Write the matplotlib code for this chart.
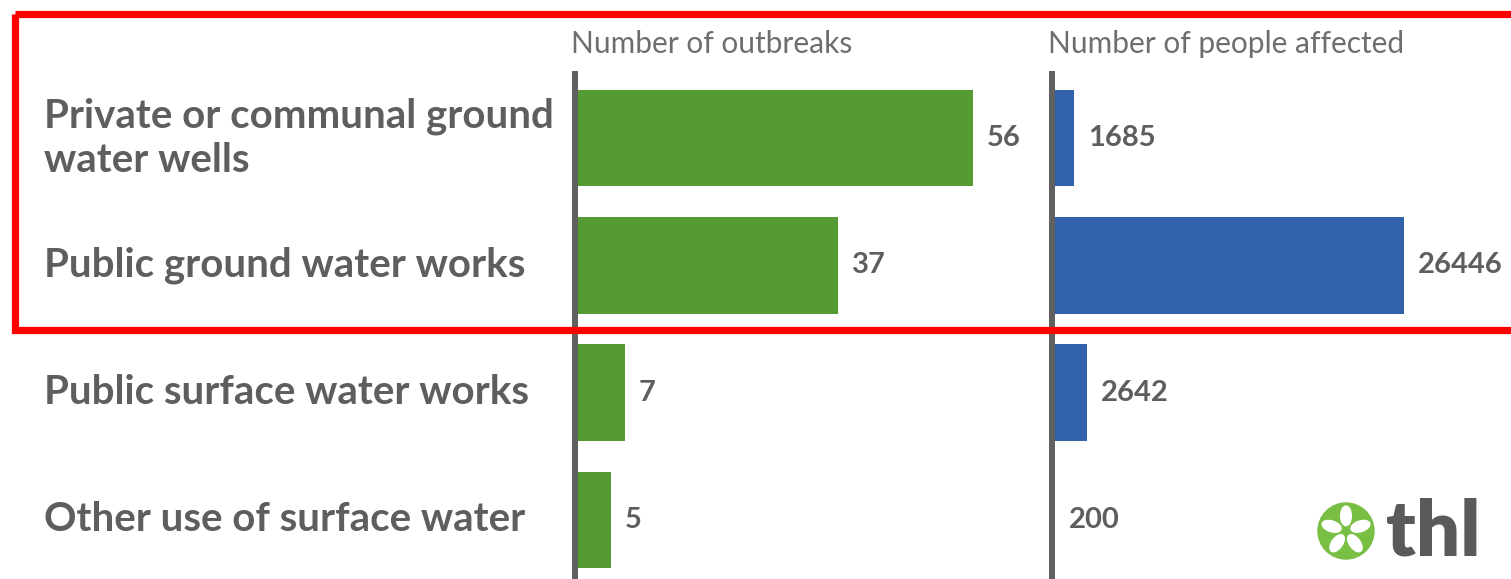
import numpy as np
import matplotlib
matplotlib.use("Agg")
import matplotlib.pyplot as plt
from matplotlib.patches import Rectangle, Circle, Ellipse
from matplotlib.transforms import blended_transform_factory

# data
categories = ["Private or communal ground\nwater wells",
              "Public ground water works",
              "Public surface water works",
              "Other use of surface water"]
outbreaks = [56, 37, 7, 5]
people = [1685, 26446, 2642, 200]
titles = ["Number of outbreaks", "Number of people affected"]

green = "#539b32"
blue = "#3162ab"
axis_grey = "#606060"
text_grey = "#5e5e5e"
light_grey = "#6e6e6e"

plt.rcParams['font.family'] = ['Lato', 'DejaVu Sans']

W, H = 1511, 579
fig = plt.figure(figsize=(W / 100, H / 100), dpi=100)

y = np.arange(len(categories))
ax_top_px = 74
ax_h = (H - ax_top_px) / H
ylim = (3.464, -0.503)

def make_axes(left_px, width_px, xmax, values, color, title):
    ax = fig.add_axes([left_px / W, 0, width_px / W, ax_h])
    ax.barh(y, values, height=0.76, color=color, zorder=1)
    ax.set_xlim(0, xmax)
    ax.set_ylim(*ylim)
    for s in ["top", "right", "bottom"]:
        ax.spines[s].set_visible(False)
    ax.spines["left"].set_linewidth(4.3)
    ax.spines["left"].set_color(axis_grey)
    ax.spines["left"].set_zorder(3)
    ax.set_xticks([])
    ax.set_yticks([])
    ax.patch.set_alpha(0)
    for yi, v in zip(y, values):
        ax.annotate(str(v), (v, yi), xytext=(10, 0), textcoords="offset points",
                    ha="left", va="center", fontsize=21, fontweight="bold",
                    color=text_grey)
    ax.text(-4 / width_px, 1 + 30 / (ax_h * H), title, transform=ax.transAxes,
            ha="left", va="center", fontsize=21.5, color=light_grey)
    return ax

ax1 = make_axes(575, 470, 470 / 7.1, outbreaks, green, titles[0])
ax2 = make_axes(1052, 459, 459 / 0.01331, people, blue, titles[1])

# category labels
trans = blended_transform_factory(fig.transFigure, ax1.transData)
for yi, c in zip(y, categories):
    ax1.text(44 / W, yi, c, transform=trans, ha="left", va="center",
             fontsize=29, fontweight="bold", color=text_grey, linespacing=1.22)

# overlay in pixel coordinates for frame and logo
ov = fig.add_axes([0, 0, 1, 1], zorder=10)
ov.set_xlim(0, W)
ov.set_ylim(H, 0)
ov.axis("off")
ov.patch.set_alpha(0)
ov.add_patch(Rectangle((15, 13.5), W + 20, 316, fill=False, edgecolor="#ff0000",
                       linewidth=5.2))

cx, cy, r = 1346, 531, 28
ov.add_patch(Circle((cx, cy), r, color="#78bf44"))
for k in range(5):
    a = np.deg2rad(90 + 72 * k)
    ov.add_patch(Ellipse((cx + 0.54 * r * np.cos(a), cy - 0.54 * r * np.sin(a)),
                         0.7 * r, 0.38 * r, angle=-np.rad2deg(a),
                         color="white"))
ov.text(1386, 533, "thl", ha="left", va="center", fontsize=56,
        fontweight="heavy", color="#5a5a5a")

fig.savefig("out.png", dpi=100)
